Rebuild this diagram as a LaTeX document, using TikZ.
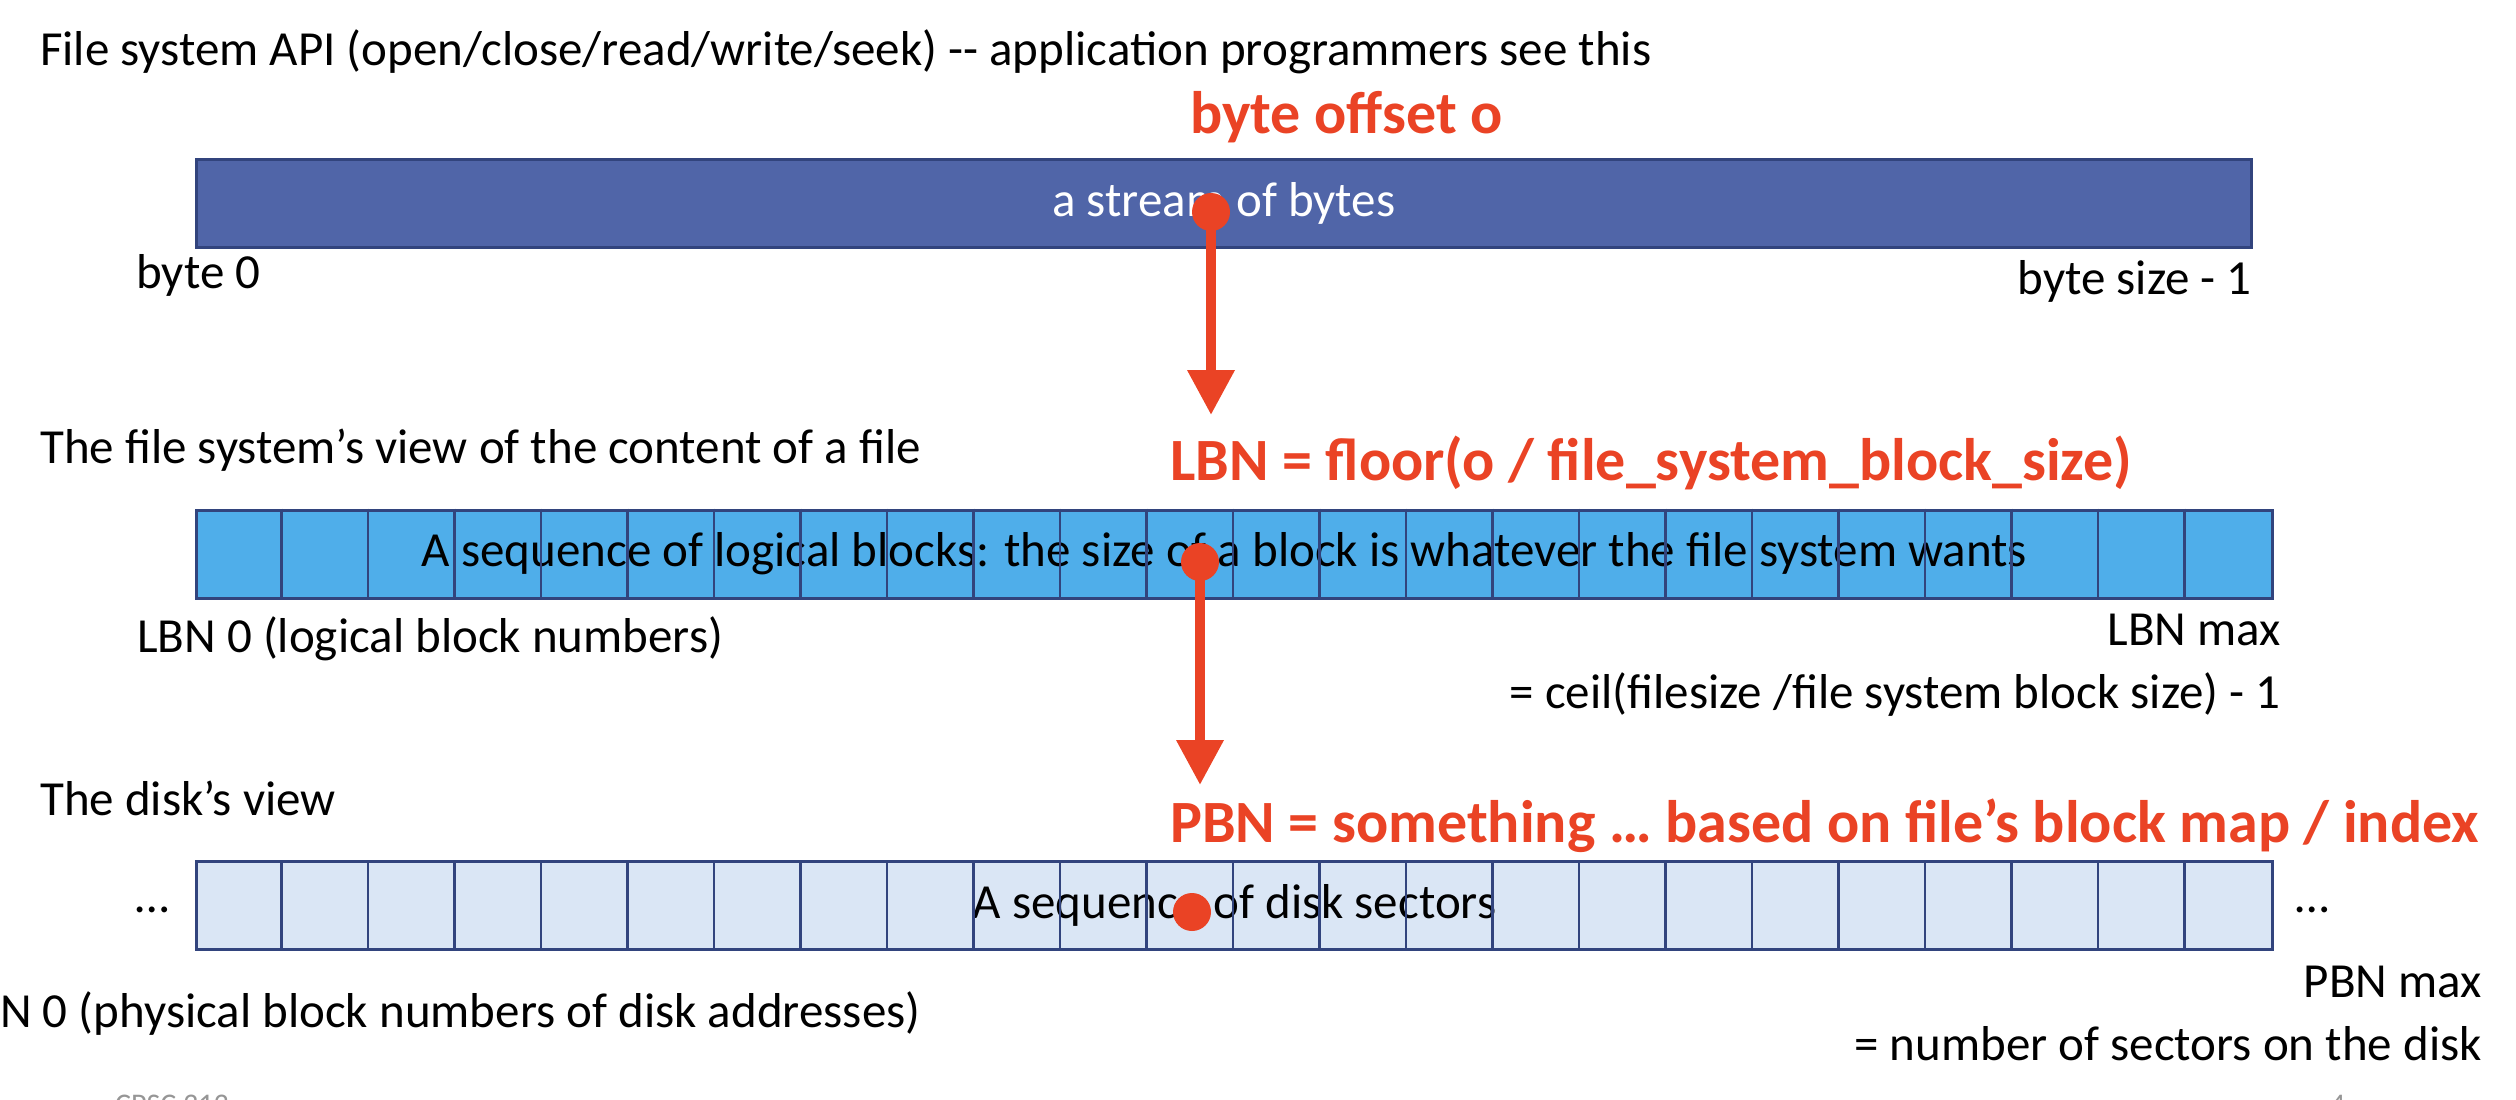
\documentclass[tikz,border=0pt]{standalone}
\usepackage{fontspec}
\setmainfont{Carlito}
\usetikzlibrary{arrows.meta}
\definecolor{barblue}{RGB}{80,101,168}
\definecolor{bardark}{RGB}{50,68,125}
\definecolor{lblue}{RGB}{79,174,234}
\definecolor{pblue}{RGB}{218,230,245}
\definecolor{hired}{RGB}{234,67,37}
\definecolor{footgray}{RGB}{150,150,150}
\begin{document}
\begin{tikzpicture}[x=1pt,y=-1pt,
  txt/.style={inner sep=0pt, font=\fontsize{49}{59}\selectfont},
  redtxt/.style={inner sep=0pt, text=hired, font=\fontsize{60}{72}\selectfont\bfseries},
  bar/.style={draw=bardark, line width=3pt, minimum height=88pt, inner sep=0pt, font=\fontsize{49}{59}\selectfont},
  celldiv/.style={draw=bardark, line width=2.5pt},
  dotc/.style={circle, fill=hired, minimum size=38pt, inner sep=0pt},
  redarrow/.style={draw=hired, line width=10pt, -{Triangle[length=45pt,width=45pt]}},
  foot/.style={inner sep=0pt, text=footgray, font=\fontsize{30}{36}\selectfont}
]
\useasboundingbox (0,0) rectangle (2516,1100);

% ---- top: byte stream
\node[txt, anchor=base west] (apititle) at (40,65) {File system API (open/close/read/write/seek) -{}- application programmers see this};
\node[redtxt, anchor=base west] (byteoff) at (1190,133) {byte offset o};
\node[bar, fill=barblue, text=white, minimum width=2054.5pt] (bytebar) at (1223.75,203) {a stream of bytes};
\node[txt, anchor=base west] (byte0) at (136,288) {byte 0};
\node[txt, anchor=base east] (bytesize) at (2252,294) {byte size - 1};

% ---- middle: logical blocks
\node[txt, anchor=base west] (fstitle) at (40,463) {The file system’s view of the content of a file};
\node[redtxt, anchor=base west] (lbnform) at (1170,480) {LBN = floor(o / file\_system\_block\_size)};
\node[bar, fill=lblue, text=black, minimum width=2076pt] (lbnbar) at (1234.5,554) {\hspace*{-20pt}A sequence of logical blocks: the size of a block is whatever the file system wants};
\foreach \i in {1,...,23}
  \draw[celldiv] ([xshift=\i*86.5pt]lbnbar.north west) -- ([xshift=\i*86.5pt]lbnbar.south west);
\node[txt, anchor=base west] (lbn0) at (137,652) {LBN 0 (logical block numbers)};
\node[txt, anchor=base east] (lbnmax) at (2281,645) {LBN max};
\node[txt, anchor=base east] (lbnceil) at (2281,708) {= ceil(filesize /file system block size) - 1};

% ---- bottom: disk sectors
\node[txt, anchor=base west] (disktitle) at (40,815) {The disk’s view};
\node[redtxt, anchor=base west] (pbnform) at (1170,842) {PBN = something … based on file’s block map / index};
\node[bar, fill=pblue, text=black, minimum width=2076pt] (diskbar) at (1234.5,905.5) {A sequence of disk sectors};
\foreach \i in {1,...,23}
  \draw[celldiv] ([xshift=\i*86.5pt]diskbar.north west) -- ([xshift=\i*86.5pt]diskbar.south west);
\node[txt, anchor=base west] (dotsleft) at (135,912) {…};
\node[txt, anchor=base west] (dotsright) at (2295,912) {…};
\node[txt, anchor=base west] (pbn0) at (0,1027) {N 0 (physical block numbers of disk addresses)};
\node[txt, anchor=base east] (pbnmax) at (2482,997) {PBN max};
\node[txt, anchor=base east] (pbnnum) at (2482,1060) {= number of sectors on the disk};

% ---- red markers and arrows
\node[dotc] (dot1) at (1211,212) {};
\coordinate (tip1) at (1211,415);
\draw[redarrow] (dot1.center) -- (tip1);
\node[dotc] (dot2) at (1200,562) {};
\coordinate (tip2) at (1200,785);
\draw[redarrow] (dot2.center) -- (tip2);
\node[dotc] (dot3) at (1192,912) {};

% ---- slide footer (cut off at the lower edge, as in the reference)
\begin{scope}
  \clip (0,0) rectangle (2516,1100);
  \node[foot, anchor=base west] (course) at (115,1114) {CPSC 313};
  \node[foot, anchor=base west] (pagenum) at (2330,1114) {4};
\end{scope}
\end{tikzpicture}
\end{document}
